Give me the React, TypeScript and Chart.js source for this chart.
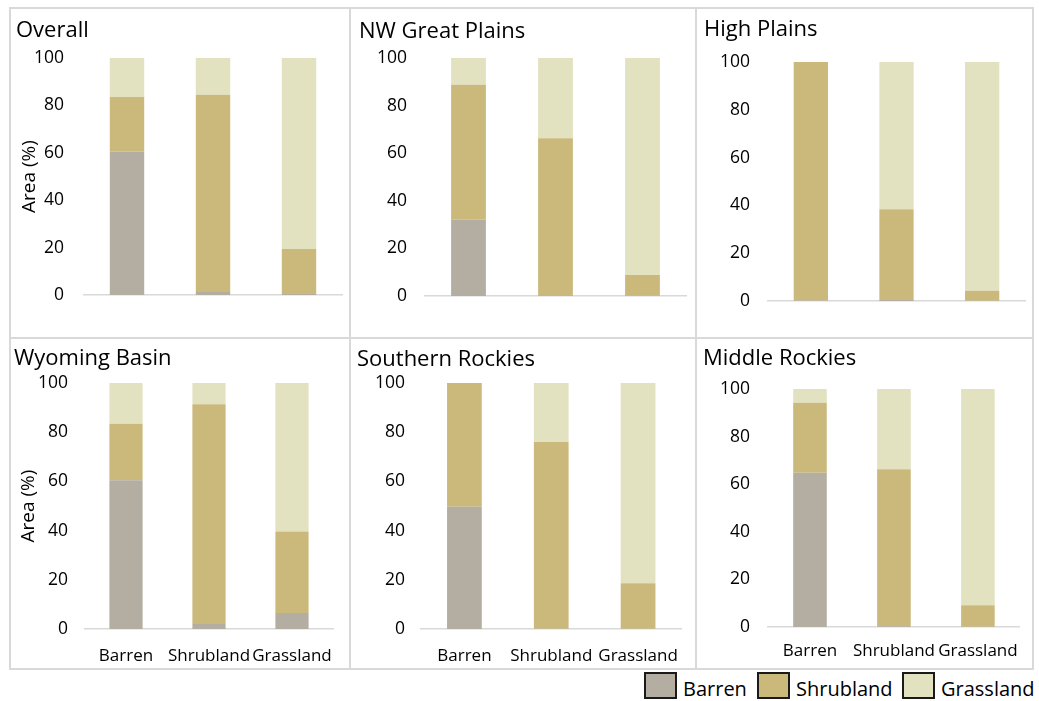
import React, { useEffect, useRef } from 'react';
import { Chart, registerables } from 'chart.js';

Chart.register(...registerables);

const FONT = "'Open Sans', 'Noto Sans', sans-serif";
Chart.defaults.font.family = FONT;

// ---------- data ----------
const categories = ['Barren', 'Shrubland', 'Grassland'];
const seriesNames = ['Barren', 'Shrubland', 'Grassland'];
const panelTitles = ['Overall', 'NW Great Plains', 'High Plains', 'Wyoming Basin', 'Southern Rockies', 'Middle Rockies'];
const yAxisTitle = 'Area (%)';

const overallBarren = [60.6, 1.3, 0.4];
const overallShrubland = [22.9, 83.2, 19.0];
const overallGrassland = [16.5, 15.5, 80.6];

const nwGreatPlainsBarren = [32.0, 0.3, 0.2];
const nwGreatPlainsShrubland = [56.8, 66.0, 8.6];
const nwGreatPlainsGrassland = [11.2, 33.7, 91.2];

const highPlainsBarren = [0.2, 0.4, 0.1];
const highPlainsShrubland = [99.8, 38.0, 4.2];
const highPlainsGrassland = [0.0, 61.6, 95.7];

const wyomingBasinBarren = [60.5, 2.0, 6.5];
const wyomingBasinShrubland = [22.9, 89.4, 33.1];
const wyomingBasinGrassland = [16.6, 8.6, 60.4];

const southernRockiesBarren = [49.7, 0.1, 0.1];
const southernRockiesShrubland = [50.3, 75.9, 18.5];
const southernRockiesGrassland = [0.0, 24.0, 81.4];

const middleRockiesBarren = [64.8, 0.3, 0.1];
const middleRockiesShrubland = [29.4, 66.0, 9.0];
const middleRockiesGrassland = [5.8, 33.7, 90.9];

const panelSeries = [
  [overallBarren, overallShrubland, overallGrassland],
  [nwGreatPlainsBarren, nwGreatPlainsShrubland, nwGreatPlainsGrassland],
  [highPlainsBarren, highPlainsShrubland, highPlainsGrassland],
  [wyomingBasinBarren, wyomingBasinShrubland, wyomingBasinGrassland],
  [southernRockiesBarren, southernRockiesShrubland, southernRockiesGrassland],
  [middleRockiesBarren, middleRockiesShrubland, middleRockiesGrassland],
];

// ---------- styles / layout ----------
const seriesColors = ['#b3aea1', '#cbb97c', '#e2e2c0'];
const BORDER = '#d9d9d9';
const COLS = [10, 350, 696, 1033];
const ROWS = [8, 338, 669];

// per-panel layout: pl = left padding (title x), pr = right padding, tt/tb = title padding,
// yw = y-axis width, xh = x-axis height, ypad = y tick padding, xpad = x tick padding, ytp = y title padding
const layouts = [
  { pl: 6, pr: 8, tt: 10, tb: 13.6, yw: 68, xh: 43, ypad: 20, xpad: 17, ytp: 2.6 },
  { pl: 9, pr: 10, tt: 11, tb: 12.6, yw: 66, xh: 42, ypad: 18, xpad: 17, ytp: 0 },
  { pl: 8, pr: 8, tt: 9, tb: 18.6, yw: 64, xh: 37, ypad: 18, xpad: 17, ytp: 0 },
  { pl: 4, pr: 10.5, tt: 8, tb: 10.6, yw: 70.5, xh: 40, ypad: 16.5, xpad: 16.5, ytp: 3.6 },
  { pl: 7, pr: 10, tt: 9, tb: 9.6, yw: 64, xh: 40, ypad: 16, xpad: 16.5, ytp: 0 },
  { pl: 7, pr: 8, tt: 8, tb: 16.6, yw: 65, xh: 42, ypad: 18, xpad: 14, ytp: 0 },
];

type Layout = typeof layouts[number];

function Panel({ index }: { index: number }) {
  const ref = useRef<HTMLCanvasElement>(null);
  const col = index % 3;
  const row = Math.floor(index / 3);
  const x0 = COLS[col];
  const y0 = ROWS[row];
  const w = COLS[col + 1] - x0;
  const h = ROWS[row + 1] - y0;
  const lay: Layout = layouts[index];
  const showX = row === 1;
  const showYTitle = col === 0;

  useEffect(() => {
    const series = panelSeries[index];
    const chart = new Chart(ref.current as HTMLCanvasElement, {
      type: 'bar',
      data: {
        labels: categories,
        datasets: seriesNames.map((name, i) => ({
          label: name,
          data: series[i],
          backgroundColor: seriesColors[i],
          borderWidth: 0,
          barPercentage: 0.4,
          categoryPercentage: 1,
        })),
      },
      options: {
        animation: false,
        responsive: false,
        maintainAspectRatio: false,
        devicePixelRatio: 1,
        layout: { padding: { left: lay.pl, right: lay.pr, top: 0, bottom: 0 } },
        plugins: {
          legend: { display: false },
          tooltip: { enabled: false },
          title: {
            display: true,
            text: panelTitles[index],
            align: 'start',
            color: '#000',
            font: { family: FONT, size: 22, weight: 'normal' },
            padding: { top: lay.tt, bottom: lay.tb },
          },
        },
        scales: {
          x: {
            stacked: true,
            grid: { display: false, drawTicks: false },
            border: { display: true, color: BORDER, width: 1.5 },
            ticks: {
              display: showX,
              padding: lay.xpad,
              color: '#000',
              font: { family: FONT, size: 17 },
              maxRotation: 0,
              autoSkip: false,
            },
            afterFit: (s: any) => {
              s.height = lay.xh;
            },
          },
          y: {
            stacked: true,
            min: 0,
            max: 100,
            grid: { display: false, drawTicks: false },
            border: { display: false },
            ticks: {
              stepSize: 20,
              padding: lay.ypad,
              color: '#000',
              font: { family: FONT, size: 17.5 },
            },
            title: {
              display: showYTitle,
              text: yAxisTitle,
              color: '#000',
              font: { family: FONT, size: 19 },
              padding: { top: lay.ytp, bottom: 0 },
            },
            afterFit: (s: any) => {
              s.width = lay.yw;
            },
          },
        },
      } as any,
    });
    return () => chart.destroy();
  }, []);

  return (
    <canvas
      ref={ref}
      width={w}
      height={h}
      style={{ position: 'absolute', left: x0, top: y0, width: w, height: h }}
    />
  );
}

function Lines() {
  const items: React.ReactNode[] = [];
  COLS.forEach((x, i) => {
    items.push(
      <div
        key={'v' + i}
        style={{
          position: 'absolute',
          left: x - 1,
          top: ROWS[0] - 1,
          width: 2,
          height: ROWS[2] - ROWS[0] + 2,
          background: BORDER,
        }}
      />
    );
  });
  ROWS.forEach((y, i) => {
    items.push(
      <div
        key={'h' + i}
        style={{
          position: 'absolute',
          left: COLS[0] - 1,
          top: y - 1,
          width: COLS[3] - COLS[0] + 2,
          height: 2,
          background: BORDER,
        }}
      />
    );
  });
  return <>{items}</>;
}

const legendLeft = [644, 757, 902];

function Legend() {
  return (
    <>
      {seriesNames.map((name, i) => (
        <div
          key={name}
          style={{
            position: 'absolute',
            left: legendLeft[i],
            top: 672,
            height: 27,
            display: 'flex',
            alignItems: 'flex-end',
            fontFamily: FONT,
            fontSize: 20,
            color: '#000',
            whiteSpace: 'nowrap',
          }}
        >
          <div
            style={{
              width: 29,
              height: 23,
              border: '2px solid #1a1a1a',
              background: seriesColors[i],
              marginRight: 6,
              boxSizing: 'content-box',
            }}
          />
          <span style={{ lineHeight: '22px', position: 'relative', top: 1 }}>{name}</span>
        </div>
      ))}
    </>
  );
}

export default function App() {
  return (
    <div
      style={{
        position: 'absolute',
        left: 0,
        top: 0,
        width: 1039,
        height: 701,
        background: '#fff',
        overflow: 'hidden',
      }}
    >
      {panelTitles.map((t, i) => (
        <Panel key={t} index={i} />
      ))}
      <Lines />
      <Legend />
    </div>
  );
}
